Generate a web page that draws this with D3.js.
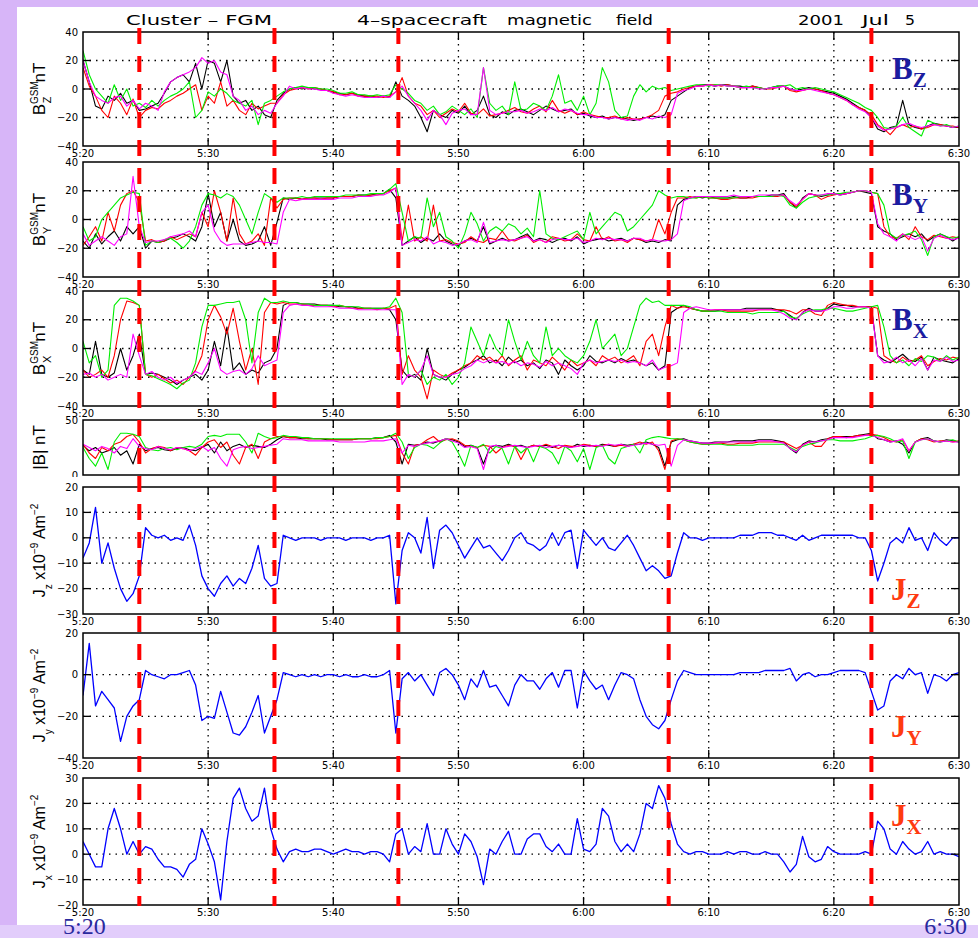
<!DOCTYPE html>
<html><head><meta charset="utf-8">
<script src="https://d3js.org/d3.v7.min.js"></script>
<style>
html,body{margin:0;padding:0;background:#d7b5f8;overflow:hidden}
svg{display:block}
</style></head><body>
<div id="cluster-fgm"></div>
<script>
// minutes after 5:20 UT, one sample every half minute (0 .. 70)
const STEP_MIN = 0.5;
const timeLabels = ["5:20","5:30","5:40","5:50","6:00","6:10","6:20","6:30"];
const tickMinutes = [0,10,20,30,40,50,60,70];
const eventMinutes = [4.5,15.3,25.2,46.8,63.0];

// B_Z GSM (nT): C1 black, C2 red, C3 green, C4 magenta
const bzC1=[20,5,-12,-14,-5,-8,-3,-10,-8,-15, -14,-12,-10,-3,5,8,10,5,18,0, 20,18,5,20,-5,-10,-8,-15,-12,-18, -20,-8,-3,0,1,0,1,0,0,-1, -2,-3,-4,-3,-4,-5,-5,-6,-5,-6, 5,-5,-8,-12,-20,-30,-15,-18,-20,-15, -17,-12,-18,-15,-5,-18,-20,-16,-18,-15, -14,-16,-18,-15,-12,-14,-16,-15,-14,-18, -17,-19,-20,-19,-21,-20,-20,-21,-22,-21, -20,-19,-20,-18,-8,-5,-2,1,2,3, 3,2,3,3,2,2,1,2,1,0, 1,2,2,0,-1,0,1,0,-1,-2, -3,-5,-7,-10,-13,-15,-20,-28,-30,-27, -26,-8,-25,-27,-28,-26,-24,-25,-26,-27, -27];
const bzC2=[15,2,-5,-15,-20,-5,-10,-18,-7,-20, -15,-13,-14,-10,-8,-5,-3,0,3,-15, -5,-10,5,-12,-8,-15,-18,-10,-14,-12, -10,-10,-4,-1,0,1,0,1,0,-1, -2,-4,-4,-3,-5,-5,-5,-5,-6,-5, -2,8,-5,-10,-12,-18,-15,-20,-17,-14, -16,-10,-17,-18,-14,-19,-18,-17,-15,-13, -16,-17,-14,-12,-16,-8,-15,-17,-15,-18, -16,-18,-19,-20,-20,-19,-21,-20,-21,-21, -20,-18,-15,-5,-3,-2,0,1,2,2, 3,3,2,3,2,1,1,2,1,0, 0,1,2,-1,-2,-1,0,0,-1,-3, -4,-6,-8,-11,-13,-15,-18,-25,-28,-32, -27,-25,-27,-26,-28,-27,-25,-25,-26,-26, -27];
const bzC3=[27,10,0,-5,-10,3,-8,0,-12,-10, -13,-8,-12,-8,-5,-3,0,5,-20,-15, -2,-5,0,-3,-8,-10,-12,-8,-25,-10, -8,-5,-2,0,1,2,1,1,0,0, -1,-3,-3,-2,-4,-4,-5,-4,-5,-4, 3,0,-3,-8,-10,-15,-12,-18,-16,-12, -15,-18,-14,-20,15,-10,-15,-12,-18,5, -15,-14,-10,-12,-15,-5,10,-10,-8,-15, -5,-18,-10,15,5,-15,-20,-19,-5,3, -2,2,0,1,-1,0,1,2,3,3, 2,3,3,2,2,1,2,1,1,0, 1,2,2,3,0,1,0,1,0,-1, -2,-4,-6,-8,-10,-13,-15,-20,-27,-28, -26,-20,-27,-30,-33,-22,-24,-26,-25,-27, -26];
const bzC4=[20,5,-5,-8,-10,-6,-5,-12,-8,-14, -10,-12,-15,-2,5,8,10,12,15,22, 18,20,12,10,-5,-8,-15,-12,-18,-15, -17,-10,-5,2,0,1,0,0,-1,-1, -3,-4,-5,-4,-5,-6,-6,-6,-5,-6, -2,2,-5,-10,-15,-22,-15,-18,-25,-17, -15,-14,-18,-18,15,-15,-18,-17,-16,-16, -15,-17,-16,-14,-15,-13,-16,-14,-15,-17, -18,-18,-20,-20,-21,-20,-21,-22,-21,-22, -20,-21,-19,-20,-18,-3,-1,0,2,2, 3,2,3,2,2,1,1,1,0,0, 1,1,2,0,-1,-1,0,-1,-2,-3, -4,-6,-8,-11,-14,-16,-20,-26,-29,-28, -27,-25,-24,-26,-27,-26,-25,-26,-26,-27, -26];

// B_Y GSM (nT)
const byC1=[-15,-20,-10,-17,-12,-8,-15,-5,-10,-5, -20,-15,-16,-15,-13,-12,-10,-12,-15,-5, 18,-5,5,-15,0,-15,-18,-17,-15,-5, -18,-2,15,14,15,14,15,15,15,15, 15,16,16,16,17,17,17,18,18,21, 15,-18,-15,-12,-16,-13,-15,-10,-15,-17, -18,-15,-13,-15,-5,-17,-15,-13,-15,-14, -12,-10,-15,-13,-14,-16,-14,-13,-15,-12, -17,-15,-14,-13,-15,-14,-13,-15,-13,-14, -16,-15,-16,-14,-15,10,14,15,16,15, 16,15,15,15,16,15,15,16,16,16, 17,17,18,12,8,15,18,17,16,17, 18,17,18,19,20,19,18,-5,-8,-10, -14,-12,-10,-12,-10,-15,-12,-10,-12,-15, -12];
const byC2=[-18,-12,-5,-15,5,-8,10,18,20,12, -15,-14,-16,-15,-12,-14,-12,-10,-12,5, -5,20,5,-15,15,-10,-17,-15,-10,-18, 15,8,14,15,15,14,15,15,14,15, 15,16,16,16,17,16,17,17,18,20, 22,-15,10,-15,-12,-15,10,-15,-14,-16, -17,-16,-12,-15,-16,-13,-14,-8,-14,-15, -13,-11,-16,-14,-16,-12,-13,-15,-14,-10, -14,-15,-5,-14,-12,-15,-14,-16,-13,-14, -15,-14,0,-10,5,15,15,16,15,16, 15,15,14,14,15,15,15,15,16,16, 16,16,17,12,9,14,18,17,14,16, 17,18,18,19,20,20,19,18,-5,-12, -13,-10,-14,-5,-12,-14,-11,-12,-13,-12, -13];
const byC3=[-5,-15,-12,0,5,10,15,17,19,18, -18,-15,-16,-14,-13,-16,-20,-15,-5,10, 18,17,15,18,16,10,0,-10,5,18, 15,12,15,15,15,16,15,16,16,16, 16,16,17,17,17,17,18,18,18,21, 25,5,-15,-12,-13,15,-5,5,-12,-15, -20,-10,5,-3,-15,-8,-5,-8,-3,-5, -10,-6,-12,20,-10,-13,-14,-12,-10,-8, -14,5,-10,-5,0,5,3,-8,-5,0, 5,10,20,17,15,16,16,15,15,16, 15,15,15,15,15,16,16,16,16,16, 16,17,16,10,8,12,15,16,17,17, 18,18,19,19,20,20,19,18,10,-10, -13,-11,-10,-8,-14,-25,-12,-10,-12,-13, -12];
const byC4=[-10,-18,-15,-12,-15,-18,-12,-10,30,-5, -16,-15,-15,-14,-12,-11,-10,-8,-12,5, 10,-8,-15,-18,-17,-17,-17,-16,-15,-16, -16,-17,5,14,13,14,14,14,14,14, 14,15,15,15,16,16,16,17,17,19, 22,-18,-16,-14,-15,-12,-17,-15,-16,-18, -17,-15,-14,-16,-2,-16,-15,-14,-15,-14, -13,-12,-15,-14,-16,-14,-13,-14,-14,-13, -16,-15,-13,-14,-13,-14,-14,-15,-13,-13, -15,-14,-15,-15,-14,-10,13,15,16,16, 16,16,16,16,17,16,16,16,17,17, 17,17,17,13,10,14,18,17,17,18, 18,17,18,19,20,20,19,-3,-10,-12, -15,-10,-12,-14,-12,-22,-13,-11,-13,-14, -13];

// B_X GSM (nT)
const bxC1=[-15,-18,5,-18,-20,-17,0,-15,-5,10, -18,-17,-18,-20,-22,-25,-22,-20,-18,-22, -15,5,-12,15,-15,-10,-18,-15,-17,-10, -8,0,30,32,32,31,31,31,30,30, 30,29,29,29,28,28,28,28,28,27, 20,-15,-20,-18,-22,0,-18,-20,-22,-18, -15,-13,-10,-8,-5,-10,-8,-12,-6,-10, -8,-12,-10,-14,-8,-10,-18,-8,-12,-15, -12,-5,-9,-10,-8,-10,-7,-9,-8,-10, -12,-10,-15,-12,25,28,30,28,27,26, 26,26,27,27,27,27,28,28,28,28, 28,27,26,23,20,25,28,26,26,28, 31,30,30,29,29,29,29,-5,-8,-10, -7,-4,-8,-9,-6,-15,-6,-8,-9,-10, -7];
const bxC2=[-15,-20,-18,-15,-20,-5,20,33,32,30, -18,-20,-18,-21,-24,-22,-25,-20,-15,-5, 20,30,22,10,28,5,-15,0,-25,25, 32,31,32,31,31,31,30,30,30,30, 29,30,29,28,28,28,28,27,28,28, 30,-18,-5,-15,-20,-35,-15,-18,-20,-17, -15,-12,-10,-5,-8,-6,-10,-5,-12,-8, -5,-15,-8,-10,-12,-6,-10,-15,-8,-12, -10,-8,-12,-5,-8,-6,-10,-8,-5,-12, 5,10,-5,15,30,28,29,28,27,26, 26,27,27,26,26,26,26,26,27,27, 27,27,27,26,24,27,27,24,23,30, 32,31,30,30,29,29,29,28,-5,-8, -10,-6,-9,-8,-5,-12,-9,-7,-8,-6, -7];
const bxC3=[5,-10,-5,-20,-15,30,35,35,33,30, -18,-19,-21,-23,-25,-28,-24,-22,-10,15, 30,30,31,32,32,33,20,-10,25,35, 32,32,33,32,32,31,31,30,30,30, 30,30,29,29,29,28,28,28,28,29, 35,25,-18,-20,-15,-25,-20,-22,-18,-25, -20,-10,15,5,-5,10,0,-5,20,5, -8,5,-5,-10,15,-5,0,-5,-8,-10, -5,5,20,0,5,10,-5,0,15,30, 35,32,33,30,30,30,30,29,27,26, 26,26,26,25,25,25,25,24,25,25, 25,25,26,22,21,24,26,27,27,28, 28,27,26,26,27,28,29,30,15,-5, -10,-8,-12,-7,-9,-5,-6,-9,-5,-8, -6];
const bxC4=[-18,-17,-20,-18,-22,-20,-18,-20,10,-5, -18,-16,-20,-22,-20,-24,-22,-20,-16,-18, -10,0,-15,-18,-16,-15,-18,-14,-5,-12, -10,-8,25,30,31,30,30,29,29,29, 29,28,28,28,27,27,27,27,27,27, 27,-25,-18,-20,-15,-5,-18,-20,-20,-18, -17,-14,-12,-8,-10,-8,-10,-9,-11,-9, -12,-10,-11,-13,-9,-12,-10,-12,-14,-18, -10,-8,-10,-9,-8,-9,-8,-10,-9,-10, -12,-8,-15,-13,-12,-10,25,28,29,28, 27,27,27,27,27,27,27,27,27,27, 27,26,24,21,20,25,27,26,26,27, 29,29,28,28,29,29,28,-5,-10,-9, -6,-10,-8,-12,-7,-15,-8,-9,-6,-9, -8];

// |B| (nT)
const bmC1=[27,22,25,20,22,25,18,22,10,28, 22,24,25,23,22,24,25,23,22,25, 28,20,30,22,26,28,25,27,26,25, 28,32,35,34,34,33,33,33,33,32, 32,32,32,32,33,33,33,34,34,36, 30,10,28,27,28,30,29,31,33,32, 30,26,27,25,10,25,27,26,28,26, 27,25,27,26,27,25,27,26,25,28, 26,27,26,28,27,26,28,27,28,28, 30,28,25,8,30,32,33,31,30,29, 29,30,30,30,31,31,31,31,32,32, 32,31,30,24,20,28,31,30,32,33, 35,35,35,35,36,37,38,33,32,30, 31,28,20,30,33,34,31,30,32,31, 30];
const bmC2=[28,20,15,25,22,28,30,35,37,30, 20,24,26,25,22,25,24,22,18,25, 30,32,25,30,18,10,25,28,15,30, 33,35,35,34,34,34,33,33,33,33, 32,32,32,32,33,33,33,33,34,35, 36,20,10,27,28,32,35,30,32,33, 31,27,26,25,27,26,20,25,27,26, 14,25,27,26,28,26,24,27,26,26, 28,27,26,27,28,26,27,26,28,30, 28,30,22,5,31,33,32,30,29,28, 28,29,29,28,28,29,29,29,30,30, 30,30,30,27,24,27,30,26,26,33, 35,35,34,35,36,36,37,36,34,31, 30,32,22,30,33,32,30,31,31,30, 31];
const bmC3=[25,15,8,20,5,30,38,38,37,35, 25,23,22,24,25,23,25,26,25,28, 35,36,35,37,37,37,30,20,38,35, 33,34,36,35,35,34,34,33,33,33, 33,33,33,33,33,33,33,34,34,35, 38,30,15,25,28,27,24,29,33,30, 20,8,27,25,28,20,26,24,10,26, 20,25,12,26,24,20,10,26,22,12, 24,5,25,27,15,10,24,26,28,20, 32,34,35,34,33,33,32,30,29,28, 28,28,28,27,27,27,27,27,28,28, 28,28,28,25,22,26,28,29,31,32, 32,31,31,31,32,33,35,36,35,33, 30,31,15,30,32,33,31,30,31,32, 30];
const bmC4=[28,25,22,26,24,20,26,24,33,26, 24,23,26,24,23,25,24,22,24,26, 22,25,15,8,23,25,26,24,25,26, 27,28,33,32,32,32,31,31,31,31, 31,30,30,30,30,30,31,31,31,32, 33,20,27,26,28,29,30,31,33,31, 29,25,26,24,5,26,27,25,26,27, 26,25,26,27,25,26,27,26,25,26, 27,26,27,26,28,27,28,26,27,28, 29,28,27,28,8,27,32,31,30,29, 29,29,30,30,30,30,30,30,31,31, 31,30,29,24,21,27,30,30,31,32, 34,34,34,34,35,36,36,34,32,30, 31,33,22,30,32,33,31,30,31,30, 30];

// curlometer current density (x1e-9 A m^-2)
const jz=[-8,-2,12,-10,-2,-12,-20,-25,-22,-15, 4,1,0,1,-1,0,-1,5,-3,-15, -20,-23,-18,-15,-19,-16,-18,-12,-3,-16, -19,-18,1,0,-1,0,0,0,-1,0, 0,0,-1,0,0,0,-1,0,0,1, -26,-5,2,0,-6,8,-12,3,5,2, -3,-8,-4,0,-4,-3,-6,-9,-5,0, 2,-2,-3,-5,-3,2,-3,2,3,-12, 3,0,-3,0,-4,-5,-2,1,-3,-8, -13,-11,-13,-16,-15,-6,2,0,0,-1, 0,0,0,0,0,1,1,1,2,2, 2,1,1,0,-1,1,-1,0,1,1, 1,1,1,1,0,0,-5,-17,-10,-2, 0,-2,4,-1,0,-5,2,-1,-3,0, 0];
const jy=[-10,15,-15,-8,-12,-16,-32,-20,-15,-12, 2,0,-1,-2,0,0,1,2,-5,-22, -20,-21,-8,-18,-28,-29,-25,-18,-10,-28, -20,-12,1,0,-1,0,-1,0,-1,0, 0,-1,0,-1,-1,0,-1,-1,0,2, -28,-2,1,-3,0,-5,-10,1,3,0, -5,-12,-2,-6,2,-6,-5,-10,-15,-5, 0,-3,-3,-7,-2,1,-6,2,2,-16, 2,-3,-7,-5,-12,-5,1,0,-2,-12, -20,-24,-26,-22,-12,-3,2,1,0,0, 0,0,0,0,0,1,1,1,1,2, 2,2,2,3,-3,0,1,-1,0,0, 1,2,2,2,2,1,-8,-17,-15,-3, 0,-2,3,0,1,-9,0,-1,-3,0, 1];
const jx=[5,0,-5,-5,10,18,10,0,5,0, 3,2,-2,-5,-5,-6,-9,-4,-2,10, 4,-3,-18,5,22,26,18,13,15,26, 10,2,-3,1,2,1,1,2,2,1, 0,1,2,1,1,0,1,1,0,-3, 8,10,0,3,1,12,0,0,10,4, 0,8,5,-1,-12,2,0,5,9,0, 0,6,8,8,3,1,4,0,0,14, 2,1,4,18,15,5,1,4,1,8, 20,18,27,22,12,4,1,0,1,1, 0,0,0,1,0,1,1,0,0,1, 0,0,-3,-7,-4,7,-1,-3,-2,3, 1,0,0,0,0,1,0,13,10,2, 0,5,2,0,1,5,0,1,0,0, -1];

(function(){
  function renderCluster(selector){
    const W=978,H=938,X0=83,X1=959;
    const SC_COLORS=['#000000','#ff0000','#00ee00','#ff00ff'];
    const AXIS_FONT='"DejaVu Sans",Verdana,sans-serif';
    const svg=d3.select(selector).append('svg').attr('width',W).attr('height',H)
      .style('font-family','"Liberation Sans",Arial,sans-serif');

    svg.append('rect').attr('width',W).attr('height',H).attr('fill','#d7b5f8');
    svg.append('rect').attr('y',925).attr('width',W).attr('height',H-925).attr('fill','#e2cdfb');
    svg.append('rect').attr('x',17).attr('y',7).attr('width',W-17).attr('height',918).attr('fill','#fff');

    const x=d3.scaleLinear().domain([0,70]).range([X0,X1]);

    const panels=[
      {top:32,bottom:146,domain:[-40,40],ticks:[-40,-20,0,20,40],series:[bzC1,bzC2,bzC3,bzC4],kind:'B',comp:'Z',tagY:79},
      {top:162,bottom:277,domain:[-40,40],ticks:[-40,-20,0,20,40],series:[byC1,byC2,byC3,byC4],kind:'B',comp:'Y',tagY:205},
      {top:291,bottom:406,domain:[-40,40],ticks:[-40,-20,0,20,40],series:[bxC1,bxC2,bxC3,bxC4],kind:'B',comp:'X',tagY:330},
      {top:420,bottom:475,domain:[0,50],ticks:[0,50],series:[bmC1,bmC2,bmC3,bmC4],kind:'M',noTime:true},
      {top:487,bottom:614,domain:[-30,20],ticks:[-30,-20,-10,0,10,20],series:[jz],kind:'J',comp:'Z',sub:'z',tagY:600},
      {top:633,bottom:758,domain:[-40,20],ticks:[-40,-20,0,20],series:[jy],kind:'J',comp:'Y',sub:'y',tagY:737},
      {top:778,bottom:905,domain:[-20,30],ticks:[-20,-10,0,10,20,30],series:[jx],kind:'J',comp:'X',sub:'x',tagY:826}
    ];

    panels.forEach((p,pi)=>{
      const y=d3.scaleLinear().domain(p.domain).range([p.bottom,p.top]);
      const g=svg.append('g');
      const clipId='clip'+pi;
      svg.append('clipPath').attr('id',clipId).append('rect')
        .attr('x',X0).attr('y',p.top).attr('width',X1-X0).attr('height',p.bottom-p.top);

      // dotted grid
      const inner=p.ticks.filter(v=>v!==p.domain[0]&&v!==p.domain[1]);
      g.selectAll('line.hg').data(inner).enter().append('line')
        .attr('x1',X0).attr('x2',X1).attr('y1',d=>y(d)).attr('y2',d=>y(d))
        .attr('stroke','#000').attr('stroke-width',1.3).attr('stroke-dasharray','1.5,5');
      const vInner=tickMinutes.slice(1,-1);
      g.selectAll('line.vg').data(vInner).enter().append('line')
        .attr('x1',d=>x(d)).attr('x2',d=>x(d)).attr('y1',p.top).attr('y2',p.bottom)
        .attr('stroke','#000').attr('stroke-width',1.3).attr('stroke-dasharray','1.5,4.5');

      // data traces
      const line=d3.line().x((d,i)=>x(i*STEP_MIN)).y(d=>y(d));
      const traces=g.append('g').attr('clip-path',`url(#${clipId})`);
      p.series.forEach((s,si)=>{
        traces.append('path').datum(s).attr('d',line).attr('fill','none')
          .attr('stroke',p.kind==='J'?'#0000ff':SC_COLORS[si])
          .attr('stroke-width',p.kind==='J'?1.3:1.1).attr('stroke-linejoin','round');
      });

      // ticks inward on all four sides
      const TL=8;
      inner.forEach(v=>{
        g.append('line').attr('x1',X0).attr('x2',X0+TL).attr('y1',y(v)).attr('y2',y(v)).attr('stroke','#000').attr('stroke-width',1.3);
        g.append('line').attr('x1',X1-TL).attr('x2',X1).attr('y1',y(v)).attr('y2',y(v)).attr('stroke','#000').attr('stroke-width',1.3);
      });
      vInner.forEach(v=>{
        g.append('line').attr('x1',x(v)).attr('x2',x(v)).attr('y1',p.top).attr('y2',p.top+TL).attr('stroke','#000').attr('stroke-width',1.3);
        g.append('line').attr('x1',x(v)).attr('x2',x(v)).attr('y1',p.bottom-TL).attr('y2',p.bottom).attr('stroke','#000').attr('stroke-width',1.3);
      });
      g.append('rect').attr('x',X0).attr('y',p.top).attr('width',X1-X0).attr('height',p.bottom-p.top)
        .attr('fill','none').attr('stroke','#000').attr('stroke-width',1.5);

      // y tick labels
      const yl=g.append('g');
      if(p.kind==='M'){
        svg.append('clipPath').attr('id','clipM').append('rect').attr('x',0).attr('y',0).attr('width',W).attr('height',477);
        yl.attr('clip-path','url(#clipM)');
      }
      yl.selectAll('text').data(p.ticks).enter().append('text')
        .attr('x',78).attr('y',d=>y(d)).attr('dy','0.36em').attr('text-anchor','end')
        .attr('font-family',AXIS_FONT).attr('font-size',10)
        .text(d=>d<0?'\u2212'+Math.abs(d):String(d));

      // time labels under the panel
      if(!p.noTime){
        g.selectAll('text.tl').data(tickMinutes).enter().append('text')
          .attr('x',d=>x(d)).attr('y',p.bottom+10.5).attr('text-anchor','middle')
          .attr('font-family',AXIS_FONT).attr('font-size',10)
          .text((d,i)=>timeLabels[i]);
      }

      // rotated axis title
      const cy=(p.top+p.bottom)/2;
      const t=svg.append('text').attr('transform',`translate(45,${cy}) rotate(-90)`)
        .attr('text-anchor','middle').attr('font-size',17);
      if(p.kind==='B'){
        t.append('tspan').text('B');
        t.append('tspan').attr('font-size',10).attr('dy',-7).text('GSM');
        t.append('tspan').attr('font-size',11).attr('dx',-22).attr('dy',13).text(p.comp);
        t.append('tspan').attr('dx',14).attr('dy',-6).text('nT');
      } else if(p.kind==='M'){
        t.text('|B| nT');
      } else {
        t.attr('font-size',16);
        t.append('tspan').text('J');
        t.append('tspan').attr('font-size',10).attr('dy',7).text(p.sub);
        t.append('tspan').attr('dy',-7).text(' x10');
        t.append('tspan').attr('font-size',10).attr('dy',-7).text('\u22129');
        t.append('tspan').attr('dy',7).text(' Am');
        t.append('tspan').attr('font-size',10).attr('dy',-7).text('\u22122');
      }

      // big component tag
      if(p.comp){
        const isJ=p.kind==='J';
        const tag=svg.append('text').attr('x',isJ?891:892).attr('y',p.tagY)
          .attr('font-family','"Liberation Serif","Times New Roman",serif').attr('font-weight','bold')
          .attr('font-size',31).attr('fill',isJ?'#ff3a10':'#1c1ca0');
        tag.append('tspan').text(isJ?'J':'B');
        tag.append('tspan').attr('font-size',21).attr('dy',8).text(p.comp);
      }
    });

    // title line
    const title=[['Cluster \u2013 FGM',126,146],['4\u2013spacecraft',357,130],['magnetic',507,85],['field',616,37],['2001',798,46],['Jul',862,27],['5',905,10]];
    svg.selectAll('text.title').data(title).enter().append('text')
      .attr('x',d=>d[1]).attr('y',25).attr('font-size',14).attr('font-family',AXIS_FONT)
      .attr('textLength',d=>d[2]).attr('lengthAdjust','spacingAndGlyphs').text(d=>d[0]);

    // event markers
    svg.selectAll('line.ev').data(eventMinutes).enter().append('line')
      .attr('x1',d=>x(d)).attr('x2',d=>x(d)).attr('y1',28).attr('y2',906)
      .attr('stroke','#ff0000').attr('stroke-width',4).attr('stroke-dasharray','16,12');

    // bottom start / end labels
    svg.selectAll('text.se').data([timeLabels[0],timeLabels[timeLabels.length-1]]).enter().append('text')
      .attr('x',(d,i)=>i?967:63).attr('y',934).attr('text-anchor',(d,i)=>i?'end':'start')
      .attr('font-family','"Liberation Serif","Times New Roman",serif').attr('font-size',24)
      .attr('fill','#2a2a9e').text(d=>d);
  }

  renderCluster('#cluster-fgm');
  window.renderCluster=renderCluster;
})();
</script>
</body></html>
